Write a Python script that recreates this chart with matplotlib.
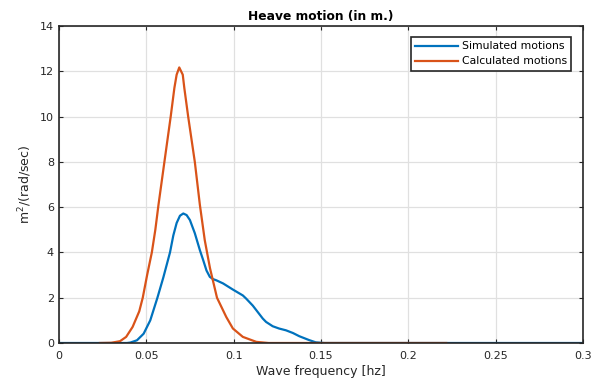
import matplotlib.pyplot as plt

# simulated motions (blue)
f_sim = [0.0, 0.039, 0.0409, 0.0447, 0.0485, 0.0523, 0.0564, 0.0598, 0.0636,
         0.0655, 0.0674, 0.0693, 0.0712, 0.0731, 0.075, 0.0778, 0.0807, 0.0826,
         0.0845, 0.0864, 0.0883, 0.0901, 0.094, 0.0996, 0.1053, 0.1072, 0.111,
         0.113, 0.1167, 0.1186, 0.1224, 0.126, 0.13, 0.134, 0.1376, 0.1432,
         0.147, 0.152, 0.3]
s_sim = [0.0, 0.0, 0.02, 0.12, 0.41, 1.0, 2.0, 2.9, 4.0,
         4.75, 5.3, 5.62, 5.72, 5.65, 5.43, 4.85, 4.1, 3.66,
         3.2, 2.92, 2.82, 2.77, 2.63, 2.36, 2.1, 1.96, 1.65,
         1.45, 1.08, 0.93, 0.74, 0.64, 0.56, 0.44, 0.3, 0.13,
         0.03, 0.0, 0.0]

# calculated motions (orange)
f_calc = [0.0235, 0.030, 0.035, 0.0385, 0.0422, 0.046, 0.048, 0.0505, 0.0532,
          0.0552, 0.057, 0.0604, 0.064, 0.0661, 0.0674, 0.0689, 0.0709, 0.0718,
          0.074, 0.0778, 0.0807, 0.0835, 0.0865, 0.0905, 0.0958, 0.0996, 0.1053,
          0.113, 0.12, 0.2217]
s_calc = [0.0, 0.01, 0.08, 0.27, 0.71, 1.4, 2.0, 3.0, 4.0,
          5.0, 6.1, 8.0, 10.0, 11.26, 11.85, 12.17, 11.85, 11.26,
          10.0, 8.0, 6.1, 4.54, 3.3, 2.0, 1.15, 0.64, 0.27,
          0.05, 0.0, 0.0]

xticks = [0, 0.05, 0.1, 0.15, 0.2, 0.25, 0.3]
xtick_labels = ["0", "0.05", "0.1", "0.15", "0.2", "0.25", "0.3"]
yticks = [0, 2, 4, 6, 8, 10, 12, 14]

fig = plt.figure(figsize=(6.01, 3.87), dpi=100)
ax = fig.add_axes([0.098, 0.1137, 0.872, 0.8191])

ax.plot(f_sim, s_sim, color="#0072BD", lw=1.6, label="Simulated motions")
ax.plot(f_calc, s_calc, color="#D95319", lw=1.6, label="Calculated motions")

ax.set_xlim(0, 0.3)
ax.set_ylim(0, 14)
ax.set_xticks(xticks)
ax.set_xticklabels(xtick_labels)
ax.set_yticks(yticks)
ax.tick_params(direction="in", top=True, right=True, labelsize=8, length=3,
               color="#262626", labelcolor="#262626")
ax.tick_params(axis="x", pad=6)
ax.grid(True, color="#e0e0e0", lw=0.9)
ax.set_axisbelow(True)
for s in ax.spines.values():
    s.set_linewidth(1.2)
    s.set_color("#262626")

ax.set_title("Heave motion (in m.)", fontsize=8.8, fontweight="bold", pad=4)
ax.set_xlabel("Wave frequency [hz]", fontsize=9, labelpad=3, color="#262626")
ax.set_ylabel("m$^2$/(rad/sec)", fontsize=9, labelpad=4, color="#262626")

leg = ax.legend(loc="upper right", fontsize=7.8, fancybox=False, framealpha=1,
                edgecolor="#262626", borderpad=0.4, handlelength=4.0,
                handletextpad=0.35, labelspacing=0.45, borderaxespad=0,
                bbox_to_anchor=(0.978, 0.965))
leg.get_frame().set_linewidth(1.2)

fig.savefig("out.png", dpi=100)
